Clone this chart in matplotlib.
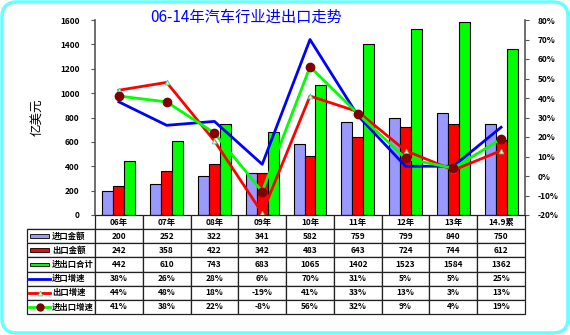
import matplotlib
matplotlib.use("Agg")
import matplotlib.pyplot as plt
from matplotlib.patches import FancyBboxPatch, Rectangle
from matplotlib.lines import Line2D
import numpy as np

plt.rcParams['font.family'] = ['Noto Sans CJK SC', 'DejaVu Sans']

categories = ['06年', '07年', '08年', '09年', '10年', '11年', '12年', '13年', '14.9累']
imports = [200, 252, 322, 341, 582, 759, 799, 840, 750]
exports = [242, 358, 422, 342, 483, 643, 724, 744, 612]
total = [442, 610, 743, 683, 1065, 1402, 1523, 1584, 1362]
import_growth = [38, 26, 28, 6, 70, 31, 5, 5, 25]
export_growth = [44, 48, 18, -19, 41, 33, 13, 3, 13]
total_growth = [41, 38, 22, -8, 56, 32, 9, 4, 19]
row_names = ['进口金额', '出口金额', '进出口合计', '进口增速', '出口增速', '进出口增速']

W, H = 570, 335
fig = plt.figure(figsize=(W / 100, H / 100), dpi=100)

# rounded cyan frame
frame = FancyBboxPatch((0.02, 0.02), 5.66, 3.31, boxstyle='round,pad=0,rounding_size=0.15',
                       transform=fig.dpi_scale_trans, ec='#66FFFF', fc='white', lw=2.5,
                       zorder=-10)
fig.patches.append(frame)

ax = fig.add_axes([95 / W, 120 / H, 430 / W, 195 / H])
ax.patch.set_alpha(0)
x = np.arange(len(categories))
w = 0.23
ax.bar(x - w, imports, w, color='#9999FF', edgecolor='black', lw=0.8)
ax.bar(x, exports, w, color='#FF0000', edgecolor='black', lw=0.8)
ax.bar(x + w, total, w, color='#00FF00', edgecolor='black', lw=0.8)
ax.set_xlim(-0.5, len(categories) - 0.5)
ax.set_ylim(0, 1600)
ax.set_yticks(range(0, 1601, 200))
ax.set_xticks([])
for s in ['top', 'bottom', 'right']:
    ax.spines[s].set_visible(False)
ax.spines['left'].set_color('#555555')
ax.spines['left'].set_linewidth(1.2)
ax.tick_params(axis='y', labelsize=6, length=3, pad=8, color='#555555')
for t in ax.get_yticklabels():
    t.set_fontweight('bold')
ax.set_ylabel('亿美元', fontsize=9, labelpad=12)

ax2 = ax.twinx()
ax2.set_ylim(-20, 80)
ax2.set_yticks(range(-20, 81, 10))
ax2.set_yticklabels([f'{v}%' for v in range(-20, 81, 10)])
for s in ['top', 'bottom', 'left']:
    ax2.spines[s].set_visible(False)
ax2.spines['right'].set_color('#555555')
ax2.spines['right'].set_linewidth(1.2)
ax2.tick_params(axis='y', labelsize=6, length=3, pad=6, color='#555555')
for t in ax2.get_yticklabels():
    t.set_fontweight('bold')
ax2.plot(x, import_growth, color='#0000FF', lw=2)
ax2.plot(x, export_growth, color='#FF0000', lw=2, marker='^', ms=3.5,
         mfc='#FFFF66', mec='#33CCCC', mew=0.6)
ax2.plot(x, total_growth, color='#00FF00', lw=2, marker='o', ms=6,
         mfc='#800000', mec='#800000')

fig.text(246 / W, 1 - 17 / H, '06-14年汽车行业进出口走势', color='#0000FF',
         fontsize=11, ha='center', va='center')

# data table
tab_ax = fig.add_axes([27 / W, 21 / H, 498 / W, 99 / H])
tab_ax.axis('off')
tab_ax.set_xlim(0, 1)
tab_ax.set_ylim(0, 1)
series = [imports, exports, total,
          [f'{v}%' for v in import_growth],
          [f'{v}%' for v in export_growth],
          [f'{v}%' for v in total_growth]]
cells = [[''] + list(categories)] + [[''] + [str(v) for v in s] for s in series]
first = 68 / 498
col_w = [first] + [(1 - first) / 9] * 9
tb = tab_ax.table(cellText=cells, colWidths=col_w, bbox=[0, 0, 1, 1], cellLoc='center')
tb.auto_set_font_size(False)
tb.set_fontsize(6)
for (r, c), cell in tb.get_celld().items():
    cell.set_linewidth(0.9)
    cell.set_edgecolor('#222222')
    cell.get_text().set_fontweight('bold')
    if r == 0 and c == 0:
        cell.visible_edges = 'B'

nrow = 7
key_x0, key_x1 = 2 / 498, 23 / 498
for i, name in enumerate(row_names):
    yc = 1 - (i + 1.5) / nrow
    tab_ax.text(25 / 498, yc, name, fontsize=6, ha='left', va='center', fontweight='bold')
    if i < 3:
        col = ['#9999FF', '#FF0000', '#00FF00'][i]
        tab_ax.add_patch(Rectangle((key_x0 + 0.002, yc - 0.02), key_x1 - key_x0 - 0.004, 0.04,
                                   fc=col, ec='black', lw=0.6))
    elif i == 3:
        tab_ax.add_line(Line2D([key_x0, key_x1], [yc, yc], color='#0000FF', lw=2))
    elif i == 4:
        tab_ax.add_line(Line2D([key_x0, key_x1], [yc, yc], color='#FF0000', lw=2))
        tab_ax.plot([(key_x0 + key_x1) / 2], [yc], marker='^', ms=3.5, mfc='#FFFF66',
                    mec='#33CCCC', mew=0.6)
    else:
        tab_ax.add_line(Line2D([key_x0, key_x1], [yc, yc], color='#00FF00', lw=2))
        tab_ax.plot([(key_x0 + key_x1) / 2], [yc], marker='o', ms=5, color='#800000')

fig.savefig('out.png', dpi=100)
